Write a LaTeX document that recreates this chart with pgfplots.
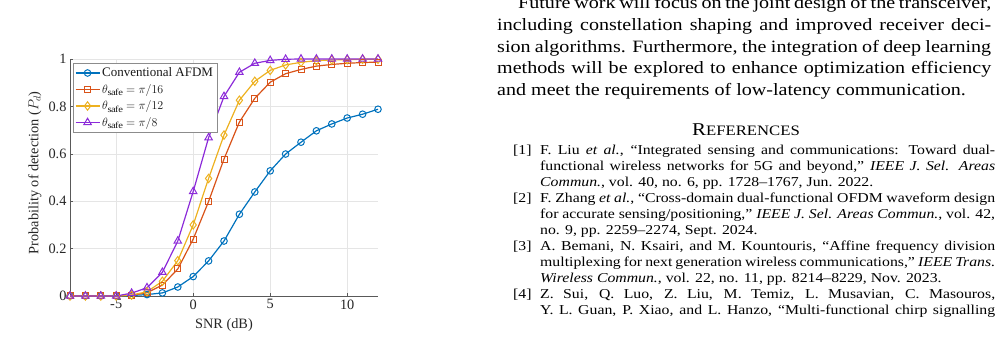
\documentclass[border=0pt]{standalone}
\usepackage{pgfplots}
\pgfplotsset{compat=1.18}
\usepackage{fontspec}
\setmainfont[FakeStretch=1.16]{Liberation Serif}
\newfontfamily\chartfamily{Liberation Serif}
\definecolor{mblue}{rgb}{0,0.447,0.741}
\definecolor{morange}{rgb}{0.85,0.325,0.098}
\definecolor{myellow}{rgb}{0.929,0.694,0.125}
\definecolor{mpurple}{rgb}{0.55,0.17,0.85}
\pgfplotstableread{
x   conv   p16    p12    p8
-8  0      0      0      0
-7  0      0      0      0
-6  0      0      0      0
-5  0      0      0      0
-4  0.002  0.003  0.004  0.012
-3  0.006  0.014  0.018  0.035
-2  0.013  0.046  0.062  0.100
-1  0.038  0.114  0.149  0.232
0   0.082  0.240  0.300  0.441
1   0.148  0.399  0.496  0.668
2   0.232  0.578  0.679  0.842
3   0.345  0.734  0.826  0.944
4   0.439  0.834  0.906  0.982
5   0.528  0.902  0.952  0.994
6   0.599  0.938  0.975  0.999
7   0.649  0.956  0.986  1
8   0.697  0.970  0.993  1
9   0.726  0.977  0.996  1
10  0.751  0.982  0.997  1
11  0.767  0.985  0.999  1
12  0.788  0.987  0.999  1
}\datatable
\newcommand\bodyfont{\fontsize{17.3}{21.6}\selectfont}
\newcommand\reffont{\fontsize{13.6}{16}\selectfont}
\newcommand\chartfont{\chartfamily\fontsize{14.3}{16}\selectfont}
\begin{document}
\begin{tikzpicture}[x=1pt,y=1pt]
\path[use as bounding box] (0,0) rectangle (1002,348);
\begin{axis}[
  at={(70pt,52pt)}, anchor=south west,
  scale only axis, width=308pt, height=237pt,
  xmin=-8, xmax=12, ymin=0, ymax=1,
  axis lines=left, axis line style={-, black!65},
  xtick={-5,0,5,10}, xticklabels={{-5},{0},{5},{10}},
  ytick={0,0.2,0.4,0.6,0.8,1},
  tick align=inside, major tick length=3pt,
  tick style={black!65},
  grid=major, major grid style={black!10, line width=0.5pt},
  /pgf/number format/assume math mode=true,
  tick label style={font=\chartfont, text=black!85},
  label style={font=\chartfont, text=black!85},
  xlabel={SNR (dB)},
  ylabel={Probability of detection ($P_d$)},
  xlabel style={at={(axis description cs:0.5,-0.122)}, anchor=center},
  ylabel style={at={(axis description cs:-0.114,0.52)}, anchor=center},
  legend style={at={(0.009,0.983)}, anchor=north west, draw=black!45,
    font=\chartfamily\fontsize{13}{15}\selectfont, text=black!90, inner xsep=2pt, inner ysep=2.5pt, row sep=2pt},
  legend cell align=left,
  legend image code/.code={\draw[mark repeat=2,mark phase=2] plot coordinates {(0pt,0pt) (12pt,0pt) (24pt,0pt)};},
  every axis plot/.append style={line width=1.2pt},
  clip=false,
]
\addplot[mblue, mark=o, mark size=3.3pt, mark options={line width=1pt}] table[x=x,y=conv] {\datatable};
\addlegendentry{Conventional AFDM}
\addplot[morange, mark=square, mark size=3pt, mark options={line width=1pt}] table[x=x,y=p16] {\datatable};
\addlegendentry{$\theta_{\mathrm{safe}}=\pi/16$}
\addplot[myellow, mark=diamond, mark size=4.2pt, mark options={line width=1pt}] table[x=x,y=p12] {\datatable};
\addlegendentry{$\theta_{\mathrm{safe}}=\pi/12$}
\addplot[mpurple, mark=triangle, mark size=4.3pt, mark options={line width=1pt}] table[x=x,y=p8] {\datatable};
\addlegendentry{$\theta_{\mathrm{safe}}=\pi/8$}
\end{axis}
% right column text
\begin{scope}[every node/.style={anchor=base west, inner sep=0pt}]
\node at (518,339) {\bodyfont\hbox to 473pt{Future work will focus on the joint design of the transceiver,}};
\node at (497,317.4) {\bodyfont\hbox to 494pt{including constellation shaping and improved receiver deci-}};
\node at (497,295.8) {\bodyfont\hbox to 494pt{sion algorithms. Furthermore, the integration of deep learning}};
\node at (497,274.2) {\bodyfont\hbox to 494pt{methods will be explored to enhance optimization efficiency}};
\node at (497,252.6) {\bodyfont and meet the requirements of low-latency communication.};
\node[anchor=base] at (746,212.3) {\fontsize{18}{16}\selectfont R\fontsize{14.4}{16}\selectfont EFERENCES};
\node at (513,193.7) {\reffont [1]};
\node at (540,193.7) {\reffont\hbox to 455pt{F. Liu \textit{et al.}, “Integrated sensing and communications: Toward dual-}};
\node at (540,177.6) {\reffont\hbox to 455pt{functional wireless networks for 5G and beyond,” \textit{IEEE J. Sel. Areas}}};
\node at (540,161.6) {\reffont \textit{Commun.}, vol. 40, no. 6, pp. 1728–1767, Jun. 2022.};
\node at (513,145.5) {\reffont [2]};
\node at (540,145.5) {\reffont\hbox to 455pt{F. Zhang \textit{et al.}, “Cross-domain dual-functional OFDM waveform design}};
\node at (540,129.4) {\reffont\hbox to 455pt{for accurate sensing/positioning,” \textit{IEEE J. Sel. Areas Commun.}, vol. 42,}};
\node at (540,113.4) {\reffont no. 9, pp. 2259–2274, Sept. 2024.};
\node at (513,97.3) {\reffont [3]};
\node at (540,97.3) {\reffont\hbox to 455pt{A. Bemani, N. Ksairi, and M. Kountouris, “Affine frequency division}};
\node at (540,81.2) {\reffont\hbox to 455pt{multiplexing for next generation wireless communications,” \textit{IEEE Trans.}}};
\node at (540,65.1) {\reffont \textit{Wireless Commun.}, vol. 22, no. 11, pp. 8214–8229, Nov. 2023.};
\node at (513,49.1) {\reffont [4]};
\node at (540,49.1) {\reffont\hbox to 455pt{Z. Sui, Q. Luo, Z. Liu, M. Temiz, L. Musavian, C. Masouros,}};
\node at (540,33.0) {\reffont\hbox to 455pt{Y. L. Guan, P. Xiao, and L. Hanzo, “Multi-functional chirp signalling}};
\end{scope}
\end{tikzpicture}
\end{document}
